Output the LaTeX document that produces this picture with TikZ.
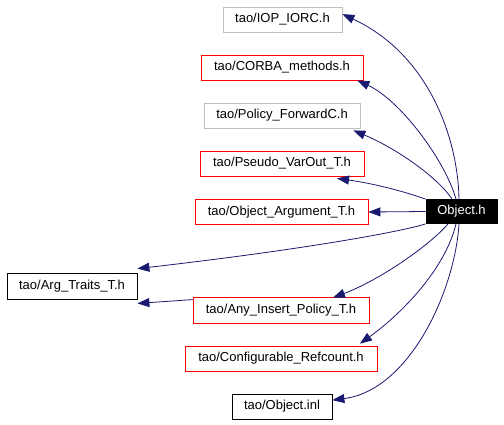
\documentclass[tikz,border=0pt]{standalone}
\usepackage{fontspec}
\setmainfont{Liberation Sans}
\usetikzlibrary{arrows.meta}

\definecolor{edgeblue}{RGB}{25,25,112}
\definecolor{boxgray}{RGB}{191,191,191}
\definecolor{boxred}{RGB}{255,0,0}

\tikzset{
  filebox/.style={draw, line width=0.8pt, fill=white, inner sep=0pt,
    minimum height=25pt, font=\fontsize{13}{15}\selectfont},
  edge/.style={draw=edgeblue, line width=0.8pt,
    -{Triangle[length=12pt,width=9pt]}, edgeblue}
}

\begin{document}
\begin{tikzpicture}[x=1pt, y=-1pt]
\useasboundingbox (0,0) rectangle (504,424);

\node [filebox, draw=boxgray, minimum width=119pt] (iorc) at (282.5,19.5) {tao/IOP\_IORC.h};
\node [filebox, draw=boxred, minimum width=162pt] (corba) at (282,67.5) {tao/CORBA\_methods.h};
\node [filebox, draw=boxgray, minimum width=156pt] (policy) at (282,115.5) {tao/Policy\_ForwardC.h};
\node [filebox, draw=boxred, minimum width=164pt] (pseudo) at (282,163.5) {tao/Pseudo\_VarOut\_T.h};
\node [filebox, draw=boxred, minimum width=173pt] (objarg) at (281.5,212) {tao/Object\_Argument\_T.h};
\node [filebox, draw=black, fill=black, text=white, minimum width=71pt, minimum height=24pt] (objh) at (461.5,211.5) {Object.h};

\node [filebox, draw=black, minimum width=130pt, minimum height=26pt] (argtraits) at (72,286) {tao/Arg\_Traits\_T.h};
\node [filebox, draw=boxred, minimum width=176pt, minimum height=26pt] (anyins) at (281,310) {tao/Any\_Insert\_Policy\_T.h};
\node [filebox, draw=boxred, minimum width=192pt] (refcount) at (281,358.5) {tao/Configurable\_Refcount.h};
\node [filebox, draw=black, minimum width=100pt] (objinl) at (282,406.5) {tao/Object.inl};

\draw [edge] ([xshift=-2.5pt]objh.north) .. controls (458,140) and (430,55) .. ([yshift=-7.5pt]iorc.north east);
\draw [edge] ([xshift=-5.5pt]objh.north) .. controls (445,160) and (400,100) .. ([xshift=-6pt]corba.south east);
\draw [edge] ([xshift=-9.5pt]objh.north) .. controls (440,180) and (400,150) .. ([xshift=-7pt, yshift=-2pt]policy.south east);
\draw [edge] (objh.north west) .. controls (400,190) and (370,183) .. ([xshift=55pt, yshift=-2pt]pseudo.south);
\draw [edge] (objh.west) -- (objarg.east);

\draw [edge] (objh.south west) .. controls (400,232) and (300,250) .. ([yshift=4pt]argtraits.north east);
\draw [edge] ([yshift=-3pt]anyins.north west) -- ([yshift=-4pt]argtraits.south east);
\draw [edge] ([xshift=-13.5pt]objh.south) .. controls (430,245) and (380,280) .. ([xshift=52pt, yshift=-1pt]anyins.north);
\draw [edge] ([xshift=-5.5pt]objh.south) .. controls (445,270) and (400,315) .. ([xshift=79pt, yshift=2pt]refcount.north);
\draw [edge] ([xshift=-2.5pt]objh.south) .. controls (455,290) and (410,390) .. ([yshift=-6.5pt]objinl.north east);

\end{tikzpicture}
\end{document}
